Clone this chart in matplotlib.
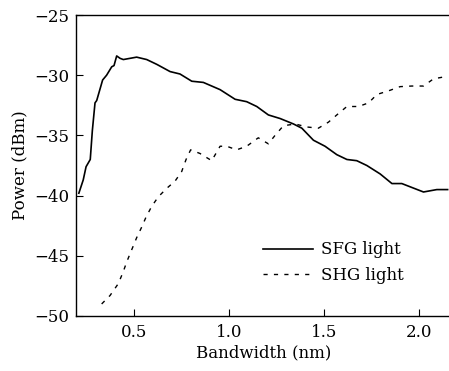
import matplotlib
matplotlib.use("Agg")
import matplotlib.pyplot as plt

sfg_x = [0.21, 0.233, 0.248, 0.27, 0.281, 0.295, 0.304, 0.335, 0.356, 0.383, 0.395, 0.409,
         0.427, 0.444, 0.514, 0.567, 0.62, 0.69, 0.742, 0.804, 0.865, 0.953, 1.032, 1.093,
         1.146, 1.207, 1.269, 1.339, 1.383, 1.444, 1.505, 1.567, 1.62, 1.672, 1.725, 1.795,
         1.857, 1.909, 2.023, 2.093, 2.15]
sfg_y = [-39.8, -38.7, -37.6, -37.0, -34.6, -32.3, -32.1, -30.4, -30.0, -29.3, -29.2, -28.4,
         -28.6, -28.7, -28.5, -28.7, -29.1, -29.7, -29.9, -30.5, -30.6, -31.2, -32.0, -32.2,
         -32.6, -33.3, -33.6, -34.05, -34.4, -35.4, -35.9, -36.6, -37.0, -37.1, -37.5, -38.2,
         -39.0, -39.0, -39.7, -39.5, -39.5]

shg_x = [0.33, 0.374, 0.418, 0.444, 0.462, 0.488, 0.514, 0.541, 0.563, 0.593, 0.628, 0.672,
         0.716, 0.751, 0.774, 0.798, 0.847, 0.909, 0.953, 0.988, 1.04, 1.093, 1.154, 1.207,
         1.242, 1.286, 1.348, 1.409, 1.47, 1.523, 1.567, 1.62, 1.681, 1.734, 1.778, 1.839,
         1.9, 1.962, 2.023, 2.076, 2.146]
shg_y = [-49.0, -48.3, -47.3, -46.3, -45.5, -44.5, -43.5, -42.6, -41.8, -40.9, -40.1, -39.4,
         -38.8, -38.0, -37.0, -36.2, -36.5, -37.1, -35.9, -35.9, -36.2, -35.9, -35.2, -35.7,
         -35.0, -34.2, -34.05, -34.3, -34.4, -33.9, -33.3, -32.6, -32.6, -32.3, -31.6, -31.3,
         -30.95, -30.9, -30.9, -30.3, -30.1]

x_ticks = [0.5, 1.0, 1.5, 2.0]
y_ticks = [-50, -45, -40, -35, -30, -25]

plt.rcParams['font.family'] = ['DejaVu Serif']
plt.rcParams['axes.unicode_minus'] = True

fig = plt.figure(figsize=(4.49, 3.71), dpi=100)
W, H = 449, 371
ax = fig.add_axes([76 / W, (H - 316) / H, (452 - 76) / W, (316 - 15) / H])

ax.plot(sfg_x, sfg_y, color='black', lw=1.2, label='SFG light')
ax.plot(shg_x, shg_y, color='black', lw=1.0, dashes=(3, 4.5), label='SHG light')

ax.set_xlim(0.195, 2.173)
ax.set_ylim(-50, -25)
ax.set_xticks(x_ticks)
ax.set_xticklabels([f"{t:.1f}" for t in x_ticks])
ax.set_yticks(y_ticks)
ax.set_yticklabels([f"\u2212{abs(t)}" for t in y_ticks])
ax.tick_params(direction='in', length=5, width=0.8, labelsize=12, pad=6)
ax.tick_params(axis='y', pad=5)
for s in ax.spines.values():
    s.set_linewidth(1.0)
ax.spines['right'].set_visible(False)

ax.set_xlabel('Bandwidth (nm)', fontsize=12, labelpad=2)
ax.set_ylabel('Power (dBm)', fontsize=12, labelpad=4)

leg = ax.legend(loc='lower right', bbox_to_anchor=(0.89, 0.085), frameon=False,
                fontsize=12, handlelength=3.0, handletextpad=0.5, labelspacing=0.5,
                borderaxespad=0)

fig.savefig('out.png', dpi=100)
